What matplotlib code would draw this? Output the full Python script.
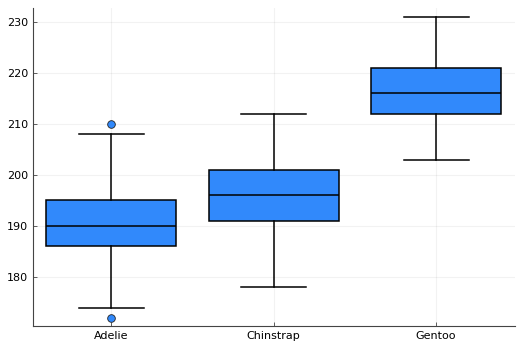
import matplotlib
matplotlib.use("Agg")
from matplotlib import pyplot as plt

species = ["Adelie", "Chinstrap", "Gentoo"]
whislo = [174, 178, 203]
q1 = [186, 191, 212]
med = [190, 196, 216]
q3 = [195, 201, 221]
whishi = [208, 212, 231]
fliers = [[172, 210], [], []]

BLUE = "#3189fb"

stats = []
for i, name in enumerate(species):
    stats.append({"label": name, "whislo": whislo[i], "q1": q1[i], "med": med[i],
                  "q3": q3[i], "whishi": whishi[i], "fliers": fliers[i]})

fig = plt.figure(figsize=(5.21, 3.59), dpi=100)
ax = fig.add_axes([33 / 521, 1 - 326 / 359, (515 - 33) / 521, (326 - 8) / 359])

ax.bxp(stats, positions=[1, 2, 3], widths=0.8, patch_artist=True,
       boxprops=dict(facecolor=BLUE, edgecolor="black", linewidth=1.1),
       medianprops=dict(color="black", linewidth=1.1),
       whiskerprops=dict(color="black", linewidth=1.1),
       capprops=dict(color="black", linewidth=1.1),
       capwidths=0.4,
       flierprops=dict(marker="o", markerfacecolor=BLUE, markeredgecolor="#222222",
                       markeredgewidth=0.6, markersize=5.5))

ax.set_xlim(0.52, 3.486)
ax.set_ylim(170.4, 232.7)
ax.set_yticks([180, 190, 200, 210, 220, 230])
ax.grid(True, color="black", alpha=0.05, linewidth=0.8)
ax.set_axisbelow(True)
for side in ["top", "right"]:
    ax.spines[side].set_visible(False)
for side in ["left", "bottom"]:
    ax.spines[side].set_color("#444444")
ax.tick_params(labelsize=8, length=3, width=0.6, color="#444444", direction="in")

fig.savefig("out.png", dpi=100)
